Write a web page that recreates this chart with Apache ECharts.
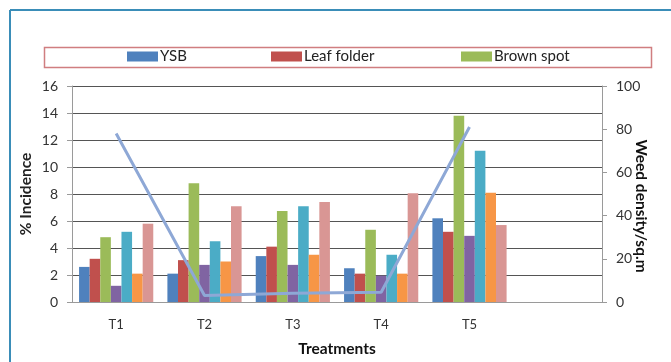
<!DOCTYPE html>
<html>
<head>
<meta charset="utf-8">
<script src="https://cdn.jsdelivr.net/npm/echarts@6/dist/echarts.min.js"></script>
<style>
  html, body { margin: 0; padding: 0; background: #ffffff; }
  #chart { width: 671px; height: 362px; }
</style>
</head>
<body>
<div id="chart"></div>
<script>
// Treatments along the x axis (last slot left empty)
const categories = ['T1', 'T2', 'T3', 'T4', 'T5', ''];

// % incidence per treatment
const ysb        = [2.6, 2.1, 3.4, 2.5, 6.2];
const leafFolder = [3.2, 3.1, 4.1, 2.1, 5.2];
const brownSpot  = [4.8, 8.8, 6.75, 5.35, 13.8];
const series4    = [1.2, 2.75, 2.75, 1.95, 4.9];
const series5    = [5.2, 4.5, 7.1, 3.5, 11.2];
const series6    = [2.1, 3.0, 3.5, 2.1, 8.1];
const series7    = [5.8, 7.1, 7.4, 8.05, 5.7];

// Weed density per square metre (right axis)
const weedDensity = [78, 3, 4, 4.5, 81];

const barColors = ['#4F81BD', '#C0504D', '#9BBB59', '#8064A2', '#4BACC6', '#F79646', '#D99694'];
const barNames = ['YSB', 'Leaf folder', 'Brown spot', 'Series 4', 'Series 5', 'Series 6', 'Series 7'];
const barData = [ysb, leafFolder, brownSpot, series4, series5, series6, series7];

const font = 'Lato, "Open Sans", sans-serif';
const chart = echarts.init(document.getElementById('chart'), null, { renderer: 'canvas' });

const barSeries = barData.map((d, i) => ({
  name: barNames[i],
  type: 'bar',
  yAxisIndex: 0,
  data: d,
  barGap: '0%',
  barCategoryGap: '16%',
  itemStyle: { color: barColors[i] },
  emphasis: { disabled: true },
  z: 2
}));

// one legend entry per component so each can sit at its own spot in the box
const legendLefts = [127, 271, 461];
const legends = ['YSB', 'Leaf folder', 'Brown spot'].map((n, i) => ({
  data: [n],
  left: legendLefts[i],
  top: 49,
  itemWidth: 31,
  itemHeight: 10,
  icon: 'rect',
  padding: 0,
  selectedMode: false,
  textStyle: { fontFamily: font, fontSize: 15, color: '#222', padding: [0, 0, 0, -3] }
}));

chart.setOption({
  animation: false,
  backgroundColor: '#ffffff',
  textStyle: { fontFamily: font },
  graphic: [
    // outer frame (top and left edges)
    { type: 'line', shape: { x1: 10, y1: 10, x2: 671, y2: 10 }, style: { stroke: '#3A8DB8', lineWidth: 2 } },
    { type: 'line', shape: { x1: 10, y1: 10, x2: 10, y2: 362 }, style: { stroke: '#3A8DB8', lineWidth: 2 } },
    // legend box
    { type: 'rect', shape: { x: 44.5, y: 47.5, width: 607, height: 20 }, style: { fill: 'none', stroke: '#D07E80', lineWidth: 1.5 }, z: 0 }
  ],
  legend: legends,
  grid: { left: 72, right: 69, top: 86, bottom: 60, containLabel: false, outerBoundsMode: 'none' },
  xAxis: {
    type: 'category',
    data: categories,
    name: 'Treatments',
    nameLocation: 'middle',
    nameGap: 39,
    nameTextStyle: { fontFamily: font, fontSize: 15.5, fontWeight: 'bold', color: '#111' },
    axisLine: { lineStyle: { color: '#9a9a9a', width: 1 } },
    axisTick: { show: false },
    axisLabel: { fontFamily: font, fontSize: 13, color: '#333', margin: 16 },
    splitLine: { show: false }
  },
  yAxis: [
    {
      type: 'value',
      min: 0, max: 16, interval: 2,
      name: '% Incidence',
      nameLocation: 'middle',
      nameGap: 38,
      nameRotate: 90,
      nameMoveOverlap: false,
      nameTextStyle: { fontFamily: font, fontSize: 15.5, fontWeight: 'bold', color: '#222' },
      axisLine: { show: true, lineStyle: { color: '#9a9a9a' } },
      axisTick: { show: true, length: 5, lineStyle: { color: '#9a9a9a' } },
      axisLabel: { fontFamily: font, fontSize: 14, color: '#333', margin: 14 },
      splitLine: { show: true, lineStyle: { color: '#555', width: 1 } }
    },
    {
      type: 'value',
      min: 0, max: 100, interval: 20,
      name: 'Weed density/sq.m',
      nameLocation: 'middle',
      nameGap: 31,
      nameRotate: -90,
      nameMoveOverlap: false,
      nameTextStyle: { fontFamily: font, fontSize: 15.5, fontWeight: 'bold', color: '#111', padding: [0, 0, 0, 24] },
      position: 'right',
      axisLine: { show: true, lineStyle: { color: '#9a9a9a' } },
      axisTick: { show: true, length: 5, lineStyle: { color: '#9a9a9a' } },
      axisLabel: { fontFamily: font, fontSize: 14, color: '#333', margin: 14 },
      splitLine: { show: false }
    }
  ],
  series: barSeries.concat([{
    name: 'Weed density',
    type: 'line',
    yAxisIndex: 1,
    data: weedDensity,
    symbol: 'none',
    lineStyle: { color: '#8EA8D6', width: 3 },
    itemStyle: { color: '#8EA8D6' },
    emphasis: { disabled: true },
    z: 5
  }])
});
</script>
</body>
</html>
